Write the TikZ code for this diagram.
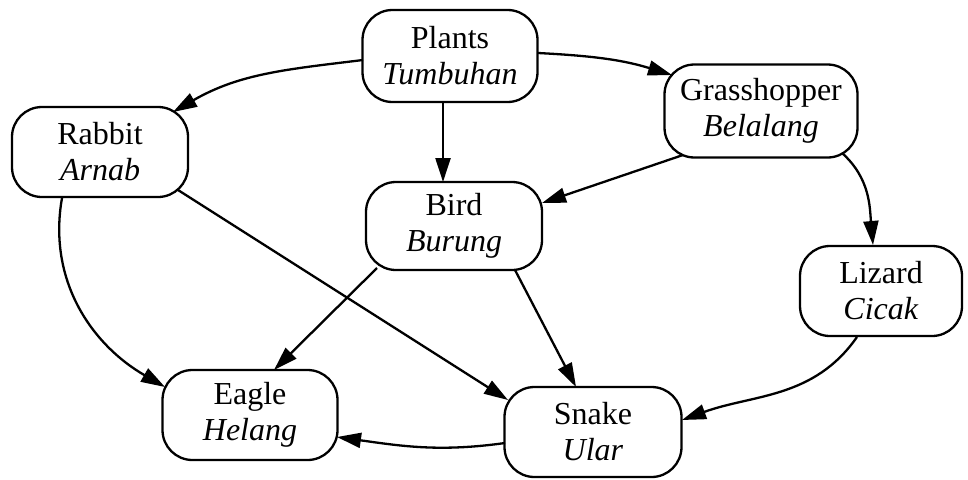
\documentclass[tikz,border=0pt]{standalone}
\usepackage{fontspec}
\setmainfont{Liberation Serif}
\usetikzlibrary{arrows.meta}
\begin{document}
\begin{tikzpicture}[x=1pt,y=1pt,
  animal/.style={draw, line width=2.3pt, rounded corners=30pt, minimum height=90pt,
    align=center, inner sep=0pt, font=\fontsize{32}{36}\selectfont},
  link/.style={line width=2.3pt, -{Triangle[length=24pt,width=15pt]}}]
\useasboundingbox (0,0) rectangle (968,-479);
\node[animal, minimum width=175pt, minimum height=92pt] (plants) at (450,-56) {Plants\\\textit{Tumbuhan}};
\node[animal, minimum width=176pt] (rabbit) at (100,-152) {Rabbit\\\textit{Arnab}};
\node[animal, minimum width=193pt, minimum height=93pt] (grass) at (761,-111) {Grasshopper\\\textit{Belalang}};
\node[animal, minimum width=176pt, minimum height=88pt] (bird) at (454,-226) {Bird\\\textit{Burung}};
\node[animal, minimum width=162pt] (lizard) at (881,-291) {Lizard\\\textit{Cicak}};
\node[animal, minimum width=175pt] (eagle) at (250,-415) {Eagle\\\textit{Helang}};
\node[animal, minimum width=177pt] (snake) at (593,-432) {Snake\\\textit{Ular}};

\draw[link] ([shift={(-87,-4)}]plants.center) to[out=187,in=30] ([shift={(73,40)}]rabbit.center);
\draw[link] ([shift={(-7,-46)}]plants.center) -- ([shift={(-11,44)}]bird.center);
\draw[link] ([shift={(88,3)}]plants.center) to[out=-3,in=163] ([shift={(-89,36)}]grass.center);
\draw[link] ([shift={(-78,-44)}]grass.center) -- ([shift={(88,23)}]bird.center);
\draw[link] ([shift={(81,-42)}]grass.center) to[out=-42,in=95] ([shift={(-8,46)}]lizard.center);
\draw[link] ([shift={(-38,-46)}]rabbit.center) to[out=-100,in=150] ([shift={(-85,28)}]eagle.center);
\draw[link] ([shift={(78,-38)}]rabbit.center) -- ([shift={(-85,32)}]snake.center);
\draw[link] ([shift={(-77,-42)}]bird.center) -- ([shift={(24,45)}]eagle.center);
\draw[link] ([shift={(61,-44)}]bird.center) -- ([shift={(-17,45)}]snake.center);
\draw[link] ([shift={(-24,-46)}]lizard.center) to[out=-125,in=20] ([shift={(89,12)}]snake.center);
\draw[link] ([shift={(-88,-11)}]snake.center) to[out=188,in=-8] ([shift={(87,-22)}]eagle.center);
\end{tikzpicture}
\end{document}
